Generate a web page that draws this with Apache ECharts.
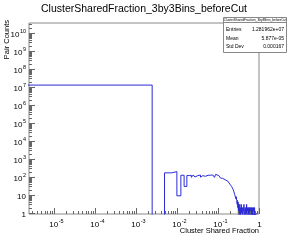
<!DOCTYPE html>
<html><head><meta charset="utf-8">
<script src="https://cdn.jsdelivr.net/npm/echarts@6/dist/echarts.min.js"></script>
<style>html,body{margin:0;padding:0;background:#fff}#c{width:288px;height:241px}</style>
</head><body><div id="c"></div>
<script>
// ---------- text ----------
const chartTitle = 'ClusterSharedFraction_3by3Bins_beforeCut';
const xTitle = 'Cluster Shared Fraction';
const yTitle = 'Pair Counts';
const statsName = 'ClusterSharedFraction_3by3Bins_beforeCut';
const statsLabels = ['Entries', 'Mean', 'Std Dev'];
const statsValues = ['1.281962e+07', '5.877e-05', '0.000167'];

// ---------- axis ticks (decade exponents) ----------
const xTickExps = [-5, -4, -3, -2, -1, 0];
const yTickExps = [0, 1, 2, 3, 4, 5, 6, 7, 8, 9, 10];
const xRange = [2.5e-6, 1];
const yRange = [0.88, 3.6e10];

// ---------- histogram data (bin start, bin width, counts) ----------
const fineStart = 0, fineWidth = 0.0025;
const fineCounts = [12800000, 0, 170, 200, 9, 125, 30, 120,
  125, 95, 130, 100, 120, 110, 128, 98, 118, 105, 125, 110, 120, 105, 125, 115,
  130, 110, 125, 120, 135, 115, 130, 125, 105, 95, 120, 140, 165, 155, 140, 125];
const midStart = 0.1, midWidth = 0.005;
const midCounts = [120, 105, 100, 88, 92, 80, 84, 75, 72, 66,
  70, 60, 62, 55, 58, 50, 52, 45, 47, 40,
  44, 36, 38, 30, 32, 25, 27, 20, 21, 15,
  17, 11, 12, 9, 10, 6, 8, 5, 6, 3,
  5, 2, 4, 1, 3, 0, 2, 1, 3, 0];
const tailStart = 0.35, tailWidth = 0.01;
const tailCounts = [2, 0, 3, 1, 2, 0, 2, 1, 3, 0,
  1, 2, 0, 2, 1, 3, 0, 1, 2, 0,
  2, 1, 0, 2, 1, 2, 0, 1, 2, 0,
  1, 2, 0, 1, 0, 2, 1, 0, 1, 2,
  0, 1, 0, 2, 0, 1, 0, 1, 0, 1];

// ---------- build staircase ----------
const floorVal = 0.3;
const bins = [];
function addBins(start, width, counts) {
  counts.forEach((c, i) => bins.push({lo: start + i * width, hi: start + (i + 1) * width, v: c}));
}
addBins(fineStart, fineWidth, fineCounts);
addBins(midStart, midWidth, midCounts);
addBins(tailStart, tailWidth, tailCounts);
const stair = [];
bins.forEach((b, i) => {
  const lo = b.lo > 0 ? b.lo : xRange[0] / 10;
  const v = b.v > 0 ? b.v : floorVal;
  if (i === 0) stair.push([lo, floorVal]);
  stair.push([lo, v]);
  stair.push([b.hi, v]);
});
stair.push([bins[bins.length - 1].hi, floorVal]);

// ---------- tick lists ----------
const xTicks = [];
for (let e = -6; e <= 0; e++) {
  for (let k = 1; k <= 9; k++) {
    const v = k * Math.pow(10, e);
    if (v >= xRange[0] && v <= xRange[1] * 1.0001) xTicks.push({v: v, major: k === 1, e: e});
  }
}
const yTicks = [];
for (let e = 0; e <= 10; e++) {
  for (let k = 1; k <= 9; k++) {
    const v = k * Math.pow(10, e);
    if (v >= yRange[0] && v <= yRange[1]) yTicks.push({v: v, major: k === 1, e: e});
  }
}

const FONT = 'Liberation Sans, Arial, sans-serif';
const tickColor = '#666';
function powLabel(e) {
  if (e === 0) return {text: '{b|1}'};
  if (e === 1) return {text: '{b|10}'};
  return {text: '{b|10}{s|' + e + '}'};
}
const rich = {
  b: {fontSize: 8, fontFamily: FONT, fill: '#000', lineHeight: 11, verticalAlign: 'bottom'},
  s: {fontSize: 5.5, fontFamily: FONT, fill: '#000', lineHeight: 11, verticalAlign: 'top', padding: [0, 0, 0, 0.5]}
};

const chart = echarts.init(document.getElementById('c'), null, {renderer: 'canvas'});
chart.setOption({
  animation: false,
  backgroundColor: '#fff',
  grid: {left: 29, top: 23, width: 230, height: 191, show: true, borderColor: '#888', borderWidth: 1, backgroundColor: 'transparent'},
  xAxis: {type: 'log', logBase: 10, min: xRange[0], max: xRange[1],
    axisLine: {show: false}, axisTick: {show: false}, axisLabel: {show: false}, splitLine: {show: false}},
  yAxis: {type: 'log', logBase: 10, min: yRange[0], max: yRange[1],
    axisLine: {show: false}, axisTick: {show: false}, axisLabel: {show: false}, splitLine: {show: false}},
  series: [
    {type: 'line', data: stair, showSymbol: false, symbol: 'none', clip: true, sampling: false,
      lineStyle: {color: '#2b2bd6', width: 1}, z: 3},
    {type: 'custom', data: xTicks.map(t => [t.v, 1]), encode: {x: 0, y: 1}, clip: false, z: 4,
      renderItem: function (params, api) {
        const t = xTicks[params.dataIndex];
        const cs = params.coordSys;
        const px = Math.round(api.coord([t.v, 1])[0]) + 0.5;
        const yb = cs.y + cs.height;
        const len = t.major ? 6 : 3;
        const children = [{type: 'line', shape: {x1: px, y1: yb, x2: px, y2: yb - len},
          style: {stroke: tickColor, lineWidth: 1}}];
        if (t.major) {
          const lab = powLabel(t.e);
          children.push({type: 'text', x: px + (t.e === 0 ? 0 : 2), y: yb + 4,
            style: {text: lab.text, rich: rich, align: 'center', verticalAlign: 'top'}});
        }
        return {type: 'group', children: children};
      }},
    {type: 'custom', data: yTicks.map(t => [1e-3, t.v]), encode: {x: 0, y: 1}, clip: false, z: 4,
      renderItem: function (params, api) {
        const t = yTicks[params.dataIndex];
        const cs = params.coordSys;
        const py = Math.round(api.coord([1e-3, t.v])[1]) + 0.5;
        const xl = cs.x;
        const len = t.major ? 6 : 3;
        const children = [{type: 'line', shape: {x1: xl, y1: py, x2: xl + len, y2: py},
          style: {stroke: tickColor, lineWidth: 1}}];
        if (t.major) {
          const lab = powLabel(t.e);
          children.push({type: 'text', x: xl - 3, y: py,
            style: {text: lab.text, rich: rich, align: 'right', verticalAlign: 'middle'}});
        }
        return {type: 'group', children: children};
      }}
  ],
  graphic: [
    {type: 'text', left: 'center', top: 4, style: {text: chartTitle, font: '10.5px ' + FONT, fill: '#000'}},
    {type: 'text', x: 3, y: 20, rotation: Math.PI / 2, originX: 0, originY: 0,
      style: {text: yTitle, font: '7.5px ' + FONT, fill: '#000', align: 'right', verticalAlign: 'top'}},
    {type: 'text', x: 259, y: 227, style: {text: xTitle, font: '7.5px ' + FONT, fill: '#000', align: 'right', verticalAlign: 'top'}},
    {type: 'group', z: 100, children: [
      {type: 'rect', shape: {x: 223.5, y: 17.5, width: 63, height: 35}, style: {fill: '#fff', stroke: '#888', lineWidth: 1}},
      {type: 'line', shape: {x1: 223.5, y1: 22.5, x2: 286.5, y2: 22.5}, style: {stroke: '#888', lineWidth: 1}},
      {type: 'text', x: 255, y: 20, style: {text: statsName, font: '3.2px ' + FONT, fill: '#000', align: 'center', verticalAlign: 'middle'}},
      {type: 'text', x: 226, y: 29.5, style: {text: statsLabels[0], font: '5px ' + FONT, fill: '#000', verticalAlign: 'middle'}},
      {type: 'text', x: 284, y: 29.5, style: {text: statsValues[0], font: '5px ' + FONT, fill: '#000', align: 'right', verticalAlign: 'middle'}},
      {type: 'text', x: 226, y: 38.5, style: {text: statsLabels[1], font: '5px ' + FONT, fill: '#000', verticalAlign: 'middle'}},
      {type: 'text', x: 284, y: 38.5, style: {text: statsValues[1], font: '5px ' + FONT, fill: '#000', align: 'right', verticalAlign: 'middle'}},
      {type: 'text', x: 226, y: 47, style: {text: statsLabels[2], font: '5px ' + FONT, fill: '#000', verticalAlign: 'middle'}},
      {type: 'text', x: 284, y: 47, style: {text: statsValues[2], font: '5px ' + FONT, fill: '#000', align: 'right', verticalAlign: 'middle'}}
    ]}
  ]
});
</script></body></html>
